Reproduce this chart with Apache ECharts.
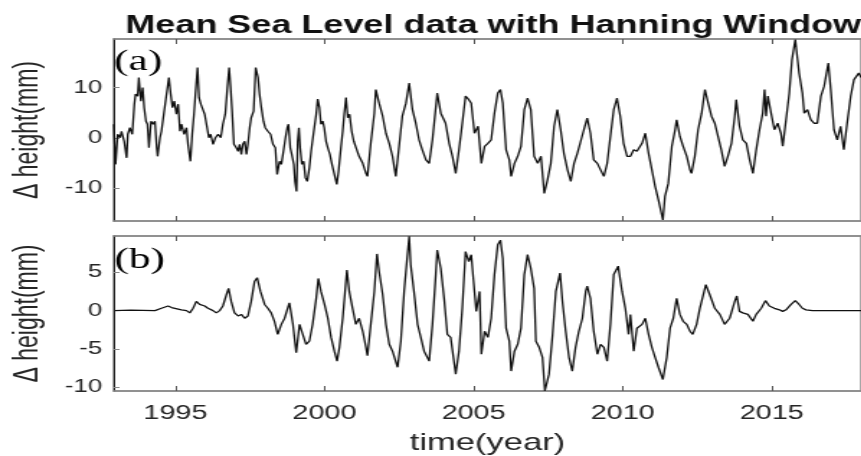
<!DOCTYPE html>
<html>
<head>
<meta charset="utf-8">
<script src="https://cdn.jsdelivr.net/npm/echarts@6/dist/echarts.min.js"></script>
<style>
  body { margin: 0; background: #fff; overflow: hidden; }
  /* the source figure is stretched sideways, so the chart is drawn narrow and scaled */
  #main { width: 598px; height: 456px; transform: scaleX(1.44); transform-origin: 0 0; }
</style>
</head>
<body>
<div id="main"></div>
<script>
// (a) raw mean sea level
var yearsA = [
  1992.93,1992.99,1993.06,1993.14,1993.19,1993.28,1993.36,1993.40,1993.47,1993.55,1993.62,1993.66,1993.73,1993.77,1993.84,1993.90,1993.95,
  1994.01,1994.06,1994.11,1994.18,1994.25,1994.31,1994.37,1994.40,1994.48,1994.53,1994.62,1994.70,1994.78,1994.84,1994.90,1994.96,
  1995.03,1995.09,1995.15,1995.20,1995.29,1995.37,1995.42,1995.50,1995.56,1995.62,1995.67,1995.74,1995.79,1995.85,1995.93,1995.98,
  1996.04,1996.12,1996.18,1996.26,1996.34,1996.43,1996.52,1996.59,1996.67,1996.74,1996.80,1996.85,1996.90,1996.96,
  1997.04,1997.10,1997.15,1997.21,1997.26,1997.32,1997.38,1997.43,1997.49,1997.54,1997.62,1997.69,1997.77,1997.82,1997.88,1997.95,
  1998.01,1998.10,1998.19,1998.27,1998.35,1998.41,1998.49,1998.55,1998.62,1998.69,1998.75,1998.79,1998.85,1998.90,1998.97,
  1999.01,1999.06,1999.10,1999.14,1999.18,1999.24,1999.30,1999.36,1999.42,1999.49,1999.55,1999.64,1999.72,1999.77,1999.83,1999.88,1999.94,1999.99,
  2000.05,2000.11,2000.18,2000.25,2000.33,2000.41,2000.47,2000.55,2000.61,2000.66,2000.72,2000.78,2000.84,2000.91,2000.98,
  2001.05,2001.16,2001.28,2001.39,2001.44,2001.55,2001.67,2001.72,2001.83,2001.95,
  2002.06,2002.17,2002.28,2002.39,2002.50,2002.61,2002.73,2002.84,2002.95,
  2003.06,2003.17,2003.28,2003.40,2003.51,2003.62,2003.78,2003.90,
  2004.06,2004.18,2004.29,2004.40,2004.51,2004.62,2004.73,2004.84,2004.92,
  2005.03,2005.15,2005.26,2005.37,2005.48,2005.59,2005.70,2005.81,2005.90,2005.98,
  2006.09,2006.20,2006.26,2006.37,2006.48,2006.59,2006.70,2006.81,2006.92,
  2007.03,2007.15,2007.26,2007.37,2007.48,2007.59,2007.70,2007.81,2007.92,
  2008.03,2008.15,2008.26,2008.37,2008.48,2008.70,2008.81,2008.92,
  2009.03,2009.15,2009.26,2009.37,2009.48,2009.59,2009.70,2009.81,2009.92,
  2010.03,2010.15,2010.26,2010.37,2010.48,2010.65,2010.76,2010.87,2010.98,
  2011.09,2011.20,2011.35,2011.42,2011.53,2011.65,2011.76,2011.81,2011.92,
  2012.03,2012.15,2012.26,2012.31,2012.42,2012.53,2012.65,2012.76,2012.87,2012.98,
  2013.09,2013.20,2013.31,2013.42,2013.53,2013.65,2013.76,2013.81,2013.92,
  2014.03,2014.15,2014.26,2014.37,2014.48,2014.59,2014.70,2014.76,2014.81,2014.87,2014.98,
  2015.09,2015.20,2015.31,2015.37,2015.48,2015.59,2015.68,2015.79,2015.92,
  2016.03,2016.09,2016.20,2016.31,2016.42,2016.53,2016.65,2016.76,2016.90,2016.98,
  2017.09,2017.20,2017.31,2017.42,2017.53,2017.65,2017.76,2017.92,2018.00
];
var heightA = [
  2.7,-5.3,0.7,0,1.3,-0.7,-4,0.7,2,0.7,6.7,8.7,8.3,12,7.3,10,6,
  3.3,2.7,-2,3.3,2.7,3.3,-2,-3.7,0,1.3,5.3,8.7,12,8.7,6,7.3,
  4.7,6.7,1.3,2.7,0.7,2,-1.3,-4.7,0.7,4.7,8.7,14,8,6.7,6.7,4.7,
  2.7,0,0.7,-1.3,0,0.7,0,2.7,4.7,10,14,10,5.3,-1.3,
  -2,-2.7,-1.3,-3.3,-1.3,-0.7,-3.3,-1.3,2,4,5.3,14,12,8.7,6,3.3,
  2,1.3,0.7,-1.3,-2,-7.3,-4.7,-5.3,-2.7,0,2,2.7,-2,-3.3,-5.3,
  -8.7,-10.7,-0.7,2,-2,-5.3,-4.7,-8,-8.7,-6,-2.7,1.3,4.7,7.7,6,2.7,3.3,2,
  -0.7,-2,-3.3,-5.3,-7.3,-9.3,-6.7,-2,1.3,4.7,8,4,4.7,1.3,-0.7,
  -0.4,-3.7,-5.1,-7.1,-7.7,-1.1,4.9,9.6,6.9,4.3,
  0.9,-1.1,-3.7,-7.7,-1.7,4.3,6.9,10.9,5.6,
  2.9,-0.4,-2.4,-4.4,-5.1,-0.4,8.9,4.9,
  2.9,-1.1,-3.7,-7.1,-2.4,2.9,8.3,7.6,6.9,
  0.9,2.3,-5.1,-1.7,-1.1,-0.4,4.9,8.9,9.6,6.9,
  -2.4,-4.4,-7.7,-5.1,-3.7,-1.7,5.6,7.9,5.6,
  -3.7,-5.1,-3.7,-11.1,-8.4,-5.1,2.3,5.6,1.6,
  -3.1,-6.4,-8.7,-5.1,-3.1,1.6,3.9,0.9,
  -4.4,-5.1,-6.4,-7.7,-5.1,0.3,5.6,7.9,4.3,
  -1.1,-3.7,-3.7,-2.4,-2.7,-1.1,0.9,-3.1,-6.4,
  -9.7,-12.4,-16.4,-11.7,-9.1,-1.7,1.6,3.6,0.3,
  -1.7,-3.7,-6.4,-7.1,-3.7,1.6,4.9,9.6,6.9,4.3,
  2.9,0.3,-2.4,-5.7,-3.7,-1.1,4.3,7.6,2.3,
  -0.4,-1.1,-4.4,-7.1,-2.4,1.6,4.9,9.6,4.3,8.3,4.9,
  1.6,2.9,0.9,-1.7,3.6,8.9,15.6,19.6,12.9,
  8.9,4.9,5.6,3.6,2.9,2.9,8.3,10.3,14.9,9.6,
  1.6,-0.4,2.3,-2.4,2.9,8.3,11.6,12.9,12.0
];

// (b) same record after the Hanning window
var yearsB = [
  1992.94,1993.50,1994.31,
  1994.36,1994.53,1994.75,1994.87,1994.98,
  1995.20,1995.37,1995.48,1995.59,1995.70,1995.81,1995.98,
  1996.09,1996.26,1996.37,1996.48,1996.59,1996.71,1996.78,1996.87,1996.98,
  1997.10,1997.21,1997.32,1997.43,1997.54,1997.65,1997.74,1997.85,1997.99,
  1998.10,1998.21,1998.32,1998.43,1998.55,1998.66,1998.82,1998.94,
  1999.05,1999.16,1999.27,1999.38,1999.49,1999.60,1999.72,1999.79,1999.88,
  2000.00,2000.11,2000.22,2000.33,2000.42,2000.50,2000.61,2000.75,2000.83,2000.94,
  2001.05,2001.16,2001.28,2001.39,2001.44,2001.55,2001.67,2001.76,2001.83,2001.95,
  2002.06,2002.17,2002.28,2002.45,2002.56,2002.67,2002.76,2002.84,2002.89,
  2003.00,2003.12,2003.23,2003.34,2003.51,2003.62,2003.73,2003.78,2003.90,
  2004.01,2004.12,2004.23,2004.34,2004.40,2004.51,2004.62,2004.73,2004.84,2004.92,
  2005.03,2005.09,2005.20,2005.26,2005.37,2005.48,2005.59,2005.70,2005.81,2005.90,2005.98,
  2006.09,2006.20,2006.26,2006.37,2006.48,2006.59,2006.70,2006.81,2006.92,
  2007.03,2007.09,2007.20,2007.31,2007.39,2007.53,2007.65,2007.76,2007.90,2007.98,
  2008.09,2008.20,2008.31,2008.42,2008.53,2008.65,2008.76,2008.81,2008.92,
  2009.03,2009.15,2009.26,2009.37,2009.48,2009.59,2009.70,2009.85,2009.98,
  2010.09,2010.20,2010.26,2010.37,2010.48,2010.65,2010.76,2010.87,2010.98,
  2011.09,2011.20,2011.35,2011.48,2011.59,2011.70,2011.81,2011.92,
  2012.03,2012.15,2012.26,2012.35,2012.48,2012.59,2012.79,2012.92,
  2013.09,2013.26,2013.42,2013.59,2013.76,2013.83,2013.92,
  2014.03,2014.20,2014.37,2014.48,2014.65,2014.79,2014.92,
  2015.09,2015.26,2015.37,2015.48,2015.65,2015.79,2015.92,
  2016.03,2016.15,2016.37,2018.00
];
var heightB = [
  0,0.05,0,
  -0.2,0.3,0.6,0.4,0.3,
  0.1,0,-0.3,0.3,1.2,0.8,0.6,
  0.3,0,-0.3,0,0.6,2.1,2.9,1.2,-0.3,
  -0.7,-0.5,-1.0,-0.7,1.2,3.8,4.3,2.5,0.8,
  0.3,-0.3,-1.4,-3.1,-1.8,-1.0,1.0,-1.8,
  -5.5,-1.8,-3.1,-4.4,-4.0,-1.8,1.6,4.2,2.5,
  0.8,-1.0,-3.5,-5.3,-6.6,-4.8,-1.0,5.3,2.5,0.3,
  -1.8,-1.0,-2.7,-4.8,-5.9,-1.8,2.5,7.4,5.1,2.1,
  -1.8,-4.4,-5.3,-7.4,-4.0,2.5,6.4,9.7,6.0,
  2.5,-1.8,-3.5,-5.3,-6.6,-1.8,4.7,7.9,5.5,
  1.6,-3.1,-3.5,-6.6,-8.3,-5.3,0.3,7.7,6.4,7.3,
  2.5,-0.1,2.5,-5.7,-2.7,-3.5,-1.0,4.7,8.6,9.2,6.8,
  -2.3,-4.0,-7.9,-5.3,-4.4,-2.3,4.7,7.3,5.5,
  2.9,-4.0,-4.8,-6.1,-10.5,-8.3,-3.1,2.5,4.9,1.2,
  -2.7,-6.1,-7.9,-4.8,-2.7,-1.0,2.5,3.2,1.6,
  -2.7,-5.7,-4.4,-4.8,-6.6,-1.8,4.7,5.8,2.5,
  0.3,-3.1,-0.5,-5.3,-2.3,-1.8,-1.0,-3.1,-4.8,
  -6.1,-7.4,-9.0,-6.1,-2.3,-1.0,1.6,-0.5,
  -1.4,-1.8,-2.7,-3.1,-1.8,0.3,3.4,2.1,
  0.3,-0.5,-1.8,-1.0,1.2,1.9,-0.1,
  -0.3,-0.5,-1.4,-0.5,0.3,1.3,0.6,
  0.3,0.1,-0.1,0.1,0.8,1.3,0.8,
  0.3,0.1,0,0
];

var yearTicks = [1995, 2000, 2005, 2010, 2015];
var ticksA = [-10, 0, 10];
var ticksB = [-10, -5, 0, 5];

function pairs(xs, ys) {
  return xs.map(function (x, i) { return [x, ys[i]]; });
}

var font = "Liberation Sans";
var textCol = "#262626";

function xAx(grid, pos, labels) {
  return {
    gridIndex: grid,
    type: "value",
    position: pos,
    min: 1992.93,
    max: 2018.0,
    axisLine: { onZero: false, lineStyle: { color: "#8a8a8a", width: 1.5 } },
    axisTick: { inside: true, length: 5, customValues: yearTicks, lineStyle: { color: "#555" } },
    axisLabel: {
      show: labels,
      customValues: yearTicks,
      formatter: function (v) { return String(v); },
      margin: 12,
      fontSize: 20,
      fontFamily: font,
      color: textCol
    },
    splitLine: { show: false }
  };
}

function yAx(grid, min, max, ticks) {
  return {
    gridIndex: grid,
    type: "value",
    min: min,
    max: max,
    name: "\u0394 height(mm)",
    nameLocation: "middle",
    nameGap: 48,
    nameTextStyle: { fontSize: 23, fontFamily: font, color: textCol },
    axisLine: { show: true, onZero: false, lineStyle: { color: "#222", width: 1 } },
    axisTick: { inside: true, length: 4, customValues: ticks, lineStyle: { color: "#888" } },
    axisLabel: {
      customValues: ticks,
      margin: 8,
      fontSize: 18,
      fontFamily: font,
      color: textCol
    },
    splitLine: { show: false }
  };
}

var xA = xAx(1, "bottom", true);
xA.name = "time(year)";
xA.nameLocation = "middle";
xA.nameGap = 40;
xA.nameTextStyle = { fontSize: 24, fontFamily: font, color: textCol };

var chart = echarts.init(document.getElementById("main"), null, { renderer: "canvas" });
var option = {
  animation: false,
  backgroundColor: "#fff",
  title: {
    text: "Mean Sea Level data with Hanning Window",
    left: 82,
    top: 9,
    textStyle: { fontSize: 25, fontWeight: "bold", fontFamily: font, color: "#111" }
  },
  grid: [
    { left: 77.8, right: 0, top: 39, height: 182, show: true, borderColor: "#8a8a8a", borderWidth: 1.5 },
    { left: 77.8, right: 0, top: 236, height: 156, show: true, borderColor: "#8a8a8a", borderWidth: 1.5 }
  ],
  xAxis: [
    xAx(0, "bottom", false),
    xAx(0, "top", false),
    xA,
    xAx(1, "top", false)
  ],
  yAxis: [
    yAx(0, -16.6, 19.7, ticksA),
    yAx(1, -10.5, 9.74, ticksB)
  ],
  graphic: [
    { type: "text", x: 96, y: 62, style: { text: "(a)", font: "30px 'Liberation Serif'", fill: "#000", textAlign: "center", textVerticalAlign: "middle" } },
    { type: "text", x: 97, y: 260, style: { text: "(b)", font: "30px 'Liberation Serif'", fill: "#000", textAlign: "center", textVerticalAlign: "middle" } }
  ],
  series: [
    {
      type: "line",
      xAxisIndex: 0,
      yAxisIndex: 0,
      data: pairs(yearsA, heightA),
      showSymbol: false,
      lineStyle: { color: "#111", width: 1.3 }
    },
    {
      type: "line",
      xAxisIndex: 2,
      yAxisIndex: 1,
      data: pairs(yearsB, heightB),
      showSymbol: false,
      lineStyle: { color: "#111", width: 1.3 }
    }
  ]
};
chart.setOption(option);
</script>
</body>
</html>
